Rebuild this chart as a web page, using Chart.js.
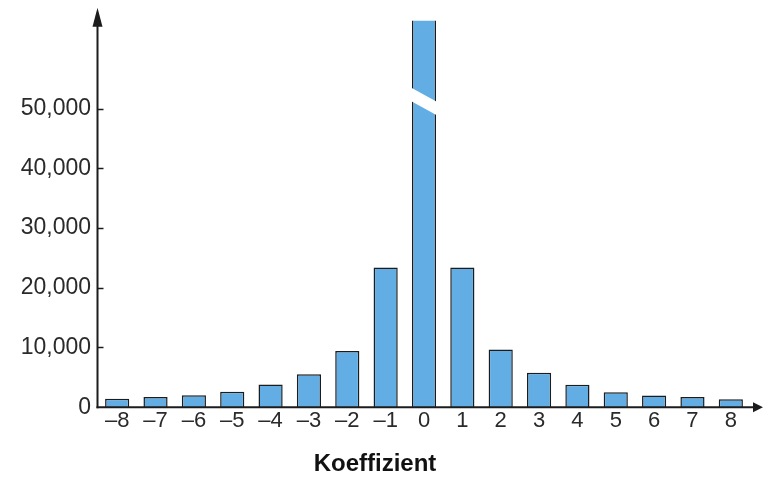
<!DOCTYPE html>
<html>
<head>
<meta charset="utf-8">
<script src="https://cdn.jsdelivr.net/npm/chart.js@4/dist/chart.umd.min.js"></script>
<style>
  html, body { margin: 0; padding: 0; background: #ffffff; }
  #wrap { width: 763px; height: 482px; position: relative; }
</style>
</head>
<body>
<div id="wrap"><canvas id="c" width="763" height="482"></canvas></div>
<script>
// ---- data ----
const categories = ['–8', '–7', '–6', '–5', '–4', '–3', '–2', '–1', '0', '1', '2', '3', '4', '5', '6', '7', '8'];
const counts = [1400, 1700, 2000, 2600, 3800, 5500, 9400, 23400, 90000, 23400, 9650, 5750, 3750, 2500, 1950, 1700, 1350];
const yTickValues = [0, 10000, 20000, 30000, 40000, 50000];
const axisMax = 64700;      // visible top of the value axis (bar "0" is broken above it)
const breakValue = 51200;   // where the axis-break mark crosses the tall bar
const xTitle = 'Koeffizient';

const BAR_FILL = '#62ADE4';
const INK = '#1c1c1c';

const axesPlugin = {
  id: 'axesWithArrows',
  afterDatasetsDraw(chart) {
    const ctx = chart.ctx;
    const area = chart.chartArea;
    const ys = chart.scales.y;
    const meta = chart.getDatasetMeta(0);

    // axis break on the tallest bar
    const idx = counts.indexOf(Math.max(...counts));
    const bar = meta.data[idx];
    if (bar) {
      const p = bar.getProps(['x', 'width'], true);
      const cy = ys.getPixelForValue(breakValue);
      const slope = 0.55, half = 6.8;
      const x0 = p.x - p.width / 2 - 1.5, x1 = p.x + p.width / 2 + 3;
      ctx.save();
      ctx.fillStyle = '#ffffff';
      ctx.beginPath();
      ctx.moveTo(x0, cy - half + slope * (x0 - p.x));
      ctx.lineTo(x1, cy - half + slope * (x1 - p.x));
      ctx.lineTo(x1, cy + half + slope * (x1 - p.x));
      ctx.lineTo(x0, cy + half + slope * (x0 - p.x));
      ctx.closePath();
      ctx.fill();
      ctx.restore();
    }

    ctx.save();
    ctx.strokeStyle = INK;
    ctx.fillStyle = INK;
    ctx.lineWidth = 2;
    const ax = area.left - 0.5;
    const ay = area.bottom;
    // y axis line
    ctx.beginPath();
    ctx.moveTo(ax, ay + 1);
    ctx.lineTo(ax, area.top - 8);
    ctx.stroke();
    // y arrow
    ctx.beginPath();
    ctx.moveTo(ax, area.top - 13);
    ctx.lineTo(ax - 5, area.top + 6);
    ctx.lineTo(ax + 5, area.top + 6);
    ctx.closePath();
    ctx.fill();
    // x axis line
    ctx.beginPath();
    ctx.moveTo(ax - 1, ay);
    ctx.lineTo(chart.width - 6, ay);
    ctx.stroke();
    // x arrow
    ctx.beginPath();
    ctx.moveTo(chart.width, ay);
    ctx.lineTo(chart.width - 10, ay - 5);
    ctx.lineTo(chart.width - 10, ay + 5);
    ctx.closePath();
    ctx.fill();
    // inward y ticks
    ctx.lineWidth = 1.5;
    yTickValues.forEach(v => {
      if (v === 0) return;
      const py = Math.round(ys.getPixelForValue(v)) + 0.5;
      ctx.beginPath();
      ctx.moveTo(ax, py);
      ctx.lineTo(ax + 6, py);
      ctx.stroke();
    });
    ctx.restore();
  }
};

new Chart(document.getElementById('c'), {
  type: 'bar',
  data: {
    labels: categories,
    datasets: [{
      data: counts,
      backgroundColor: BAR_FILL,
      borderColor: INK,
      borderWidth: 1.5,
      borderSkipped: 'start',
      categoryPercentage: 1.0,
      barPercentage: 0.63
    }]
  },
  options: {
    responsive: false,
    animation: false,
    devicePixelRatio: 1,
    layout: { padding: { left: 0, right: 13, top: 20, bottom: 0 } },
    plugins: {
      legend: { display: false },
      tooltip: { enabled: false },
      title: {
        display: true,
        position: 'bottom',
        text: xTitle,
        color: '#111111',
        font: { family: 'Liberation Sans, Arial, sans-serif', size: 24, weight: 'bold' },
        padding: { top: 0, bottom: 3 }
      }
    },
    scales: {
      x: {
        grid: { display: false, drawTicks: false },
        border: { display: false },
        ticks: {
          color: '#2a2a2a',
          padding: 1,
          maxRotation: 0,
          autoSkip: false,
          font: { family: 'Liberation Sans, Arial, sans-serif', size: 22 }
        },
        afterFit(scale) { scale.height = 43; }
      },
      y: {
        min: 0,
        max: axisMax,
        grid: { display: false, drawTicks: false },
        border: { display: false },
        afterBuildTicks(scale) {
          scale.ticks = yTickValues.map(v => ({ value: v }));
        },
        ticks: {
          color: '#2a2a2a',
          padding: 7,
          font: { family: 'Liberation Sans, Arial, sans-serif', size: 23 },
          callback: v => Number(v).toLocaleString('en-US')
        },
        afterFit(scale) { scale.width = 98; }
      }
    }
  },
  plugins: [axesPlugin]
});
</script>
</body>
</html>
